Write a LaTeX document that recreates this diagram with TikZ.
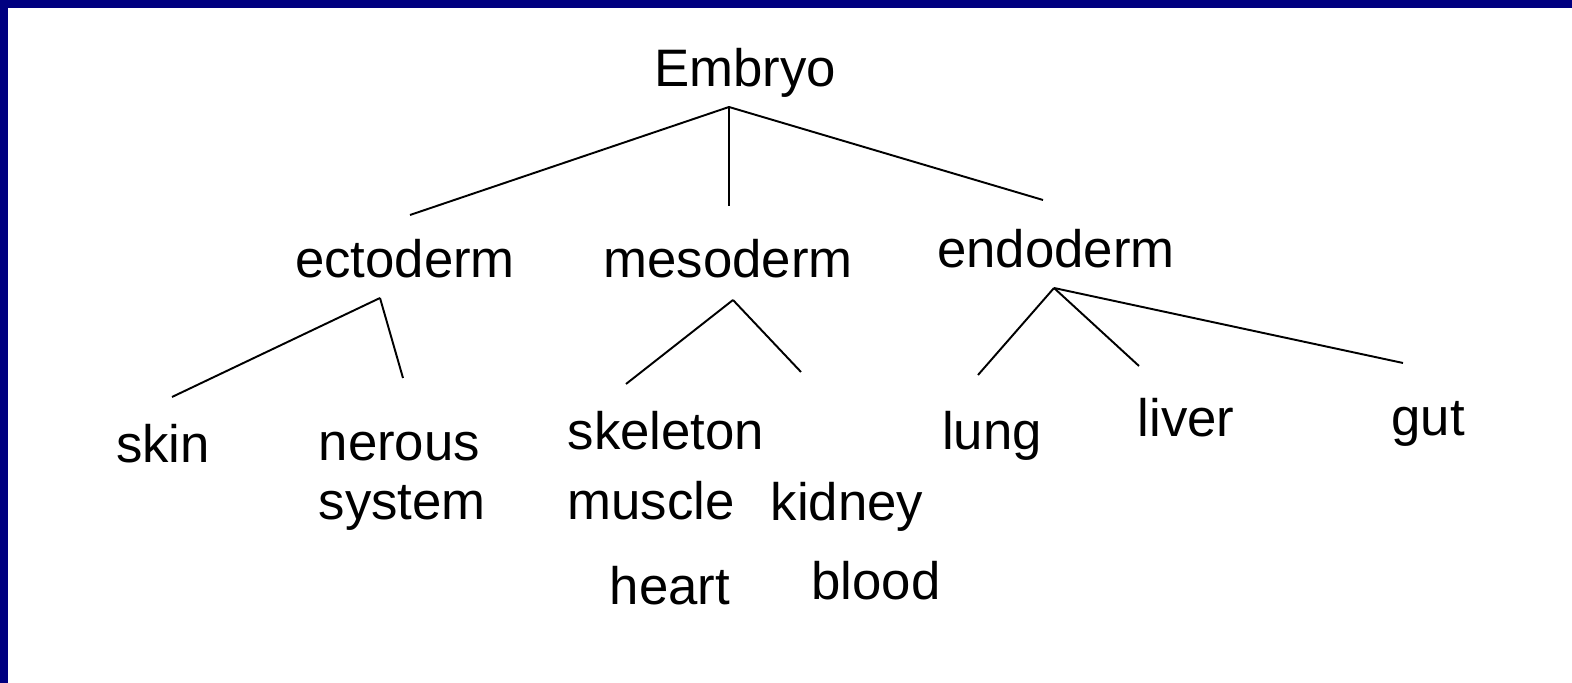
\documentclass[tikz,border=0pt]{standalone}
\usepackage{fontspec}
\setmainfont{Liberation Sans}
\usepackage{xcolor}
\usepackage{tikz}
\usetikzlibrary{positioning}
\definecolor{navy}{HTML}{000080}
\definecolor{ink}{HTML}{000000}
\definecolor{white}{HTML}{FFFFFF}

\begin{document}
\begin{tikzpicture}[x=0.01cm,y=-0.01cm, every node/.style={font=\fontsize{15}{16.8}\selectfont,inner sep=0pt,anchor=base,text=ink}, ln/.style={draw=ink,line width=0.55pt}]
\useasboundingbox (0,0) rectangle (1572,683);
\fill[white] (0,0) rectangle (1572,683);
\fill[navy] (0,0) rectangle (1572,8);\fill[navy] (0,0) rectangle (8,683);
\node (emb) at (745,87) {Embryo};
\node (ecto) at (405,278) {ectoderm};
\node (meso) at (728,278) {mesoderm};
\node (endo) at (1056,268) {endoderm};
\node (skin) at (163,463) {skin};
\node[anchor=base west,align=left] (ner) at (318,520) {nerous\\system};
\node (skel) at (666,450) {skeleton};
\node (mus) at (651,520) {muscle};
\node (kid) at (847,521) {kidney};
\node (hrt) at (670,605) {heart};
\node (bld) at (876,600) {blood};
\node (lung) at (992,450) {lung};
\node (liv) at (1186,437) {liver};
\node (gut) at (1428,436) {gut};
\coordinate (emb-j) at (729,107);\coordinate (ecto-in) at (410,215);\coordinate (meso-in) at (729,206);\coordinate (endo-in) at (1043,200);
\coordinate (ecto-j) at (380,298);\coordinate (skin-in) at (172,397);\coordinate (ner-in) at (403,378);
\coordinate (meso-j) at (733,300);\coordinate (skel-in) at (626,384);\coordinate (kid-in) at (801,372);
\coordinate (endo-j) at (1054,288);\coordinate (lung-in) at (978,375);\coordinate (liv-in) at (1139,366);\coordinate (gut-in) at (1403,363);
\draw[ln] (emb-j)--(ecto-in);\draw[ln] (emb-j)--(meso-in);\draw[ln] (emb-j)--(endo-in);
\draw[ln] (ecto-j)--(skin-in);\draw[ln] (ecto-j)--(ner-in);
\draw[ln] (meso-j)--(skel-in);\draw[ln] (meso-j)--(kid-in);
\draw[ln] (endo-j)--(lung-in);\draw[ln] (endo-j)--(liv-in);\draw[ln] (endo-j)--(gut-in);
\end{tikzpicture}
\end{document}
